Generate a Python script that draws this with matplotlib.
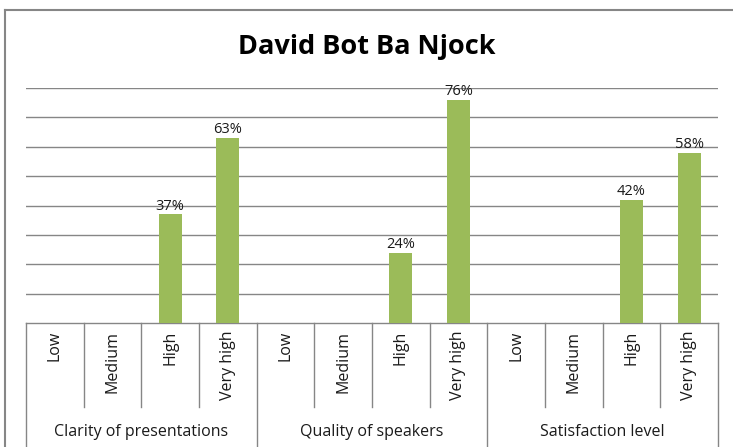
import matplotlib.pyplot as plt
import matplotlib.transforms as mtransforms

groups = ['Clarity of presentations', 'Quality of speakers', 'Satisfaction level']
levels = ['Low', 'Medium', 'High', 'Very high']
values = [
    [0, 0, 37, 63],
    [0, 0, 24, 76],
    [0, 0, 42, 58],
]

barcolor = '#9BBB59'
gridcolor = '#868686'
textcolor = '#1a1a1a'
W, H = 733, 447

fig = plt.figure(figsize=(W / 100, H / 100), dpi=100, facecolor='w')
# plot area in pixels: x 26..718, y 88..323 (top = 80 %)
ax = fig.add_axes([26 / W, 1 - 323 / H, (718 - 26) / W, (323 - 88) / H])

xs, ys, labs = [], [], []
for g, row in enumerate(values):
    for i, v in enumerate(row):
        xs.append(g * len(levels) + i)
        ys.append(v)
        labs.append(levels[i])

n = len(xs)
ax.bar(xs, ys, width=0.4, color=barcolor, zorder=3)
for x, y in zip(xs, ys):
    if y > 0:
        ax.text(x, y + 0.2, '%d%%' % y, ha='center', va='bottom', fontsize=10.5,
                family='Open Sans', color=textcolor, zorder=4)

ax.set_xlim(-0.5, n - 0.5)
ax.set_ylim(0, 80)
ax.set_yticks(range(10, 81, 10))
ax.yaxis.grid(True, color=gridcolor, linewidth=1)
ax.set_axisbelow(True)
ax.tick_params(left=False, labelleft=False, bottom=False, labelbottom=False)
for pos in ['top', 'left', 'right']:
    ax.spines[pos].set_visible(False)
ax.spines['bottom'].set_color(gridcolor)
ax.spines['bottom'].set_linewidth(1)

# category axis drawn below the plot, in pixel units
pix = mtransforms.blended_transform_factory(ax.transData, fig.transFigure)
def fy(p):
    return 1 - p / H

for k in range(n + 1):
    x = k - 0.5
    bottom = 447 if k % len(levels) == 0 else 407
    ax.plot([x, x], [fy(323), fy(bottom)], color=gridcolor, linewidth=1,
            transform=pix, clip_on=False)

for x, lab in zip(xs, labs):
    ax.text(x, fy(331), lab, rotation=90, ha='center', va='top', fontsize=11.5,
            family='Open Sans', color=textcolor, transform=pix)

for g, name in enumerate(groups):
    cx = g * len(levels) + (len(levels) - 1) / 2
    ax.text(cx, fy(432), name, ha='center', va='center', fontsize=11.5,
            family='Open Sans', color=textcolor, transform=pix)

# outer chart frame
fig.add_artist(plt.Line2D([5 / W, 5 / W], [fy(10), 0], color=gridcolor, linewidth=1.5))
fig.add_artist(plt.Line2D([5 / W, 1], [fy(10), fy(10)], color=gridcolor, linewidth=1.5))

fig.text(367 / W, fy(47), 'David Bot Ba Njock', ha='center', va='center',
         fontsize=19.5, fontweight='bold', family='Open Sans')

fig.savefig('out.png', dpi=100)
